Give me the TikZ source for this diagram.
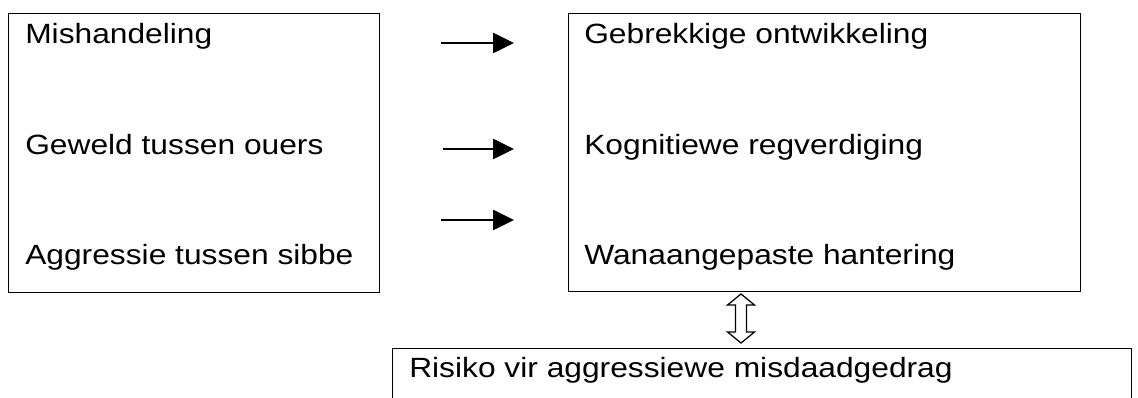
\documentclass[tikz,border=0pt]{standalone}
\usepackage{fontspec}
\setmainfont{Liberation Sans}[FakeStretch=1.14]
\usetikzlibrary{positioning,arrows.meta,calc}

\begin{document}
\begin{tikzpicture}[x=0.025cm,y=-0.025cm,
  box/.style={draw, line width=0.8pt, inner sep=0pt, anchor=north west},
  item/.style={anchor=base west, inner sep=0pt, font=\fontsize{19.8}{24}\selectfont},
  push/.style={-{Triangle[length=0.52cm,width=0.5cm]}, line width=1.4pt}]

\useasboundingbox (0,0) rectangle (1138,398);

\node[box, minimum width=9.275cm, minimum height=6.975cm] (causes) at (8,13) {};
\node[box, minimum width=12.8cm, minimum height=6.95cm] (effects) at (568,13) {};
\node[box, minimum width=18.475cm, minimum height=1.8cm] (risk) at (392,348) {};

\node[item] (abuse) at (25,44) {Mishandeling};
\node[item] (violence) at (25,155) {Geweld tussen ouers};
\node[item] (siblings) at (25,265) {Aggressie tussen sibbe};

\node[item] (devel) at (584,44) {Gebrekkige ontwikkeling};
\node[item] (justif) at (584,155) {Kognitiewe regverdiging};
\node[item] (coping) at (584,265) {Wanaangepaste hantering};

\node[item] (crime) at (409,378) {Risiko vir aggressiewe misdaadgedrag};

\coordinate (a1) at (441,43);  \coordinate (b1) at (514,43);
\coordinate (a2) at (443,149); \coordinate (b2) at (514,149);
\coordinate (a3) at (441,220); \coordinate (b3) at (514,220);
\draw[push] (a1) -- (b1);
\draw[push] (a2) -- (b2);
\draw[push] (a3) -- (b3);

% hollow double arrow between the two lower boxes
\coordinate (linktop) at (741,294);
\draw[line width=0.9pt, line join=miter, fill=white] (linktop)
  -- ++(13.5,11) -- ++(-8,0) -- ++(0,27) -- ++(8,0)
  -- ++(-13.5,11) -- ++(-13.5,-11) -- ++(8,0) -- ++(0,-27) -- ++(-8,0) -- cycle;

\end{tikzpicture}
\end{document}
